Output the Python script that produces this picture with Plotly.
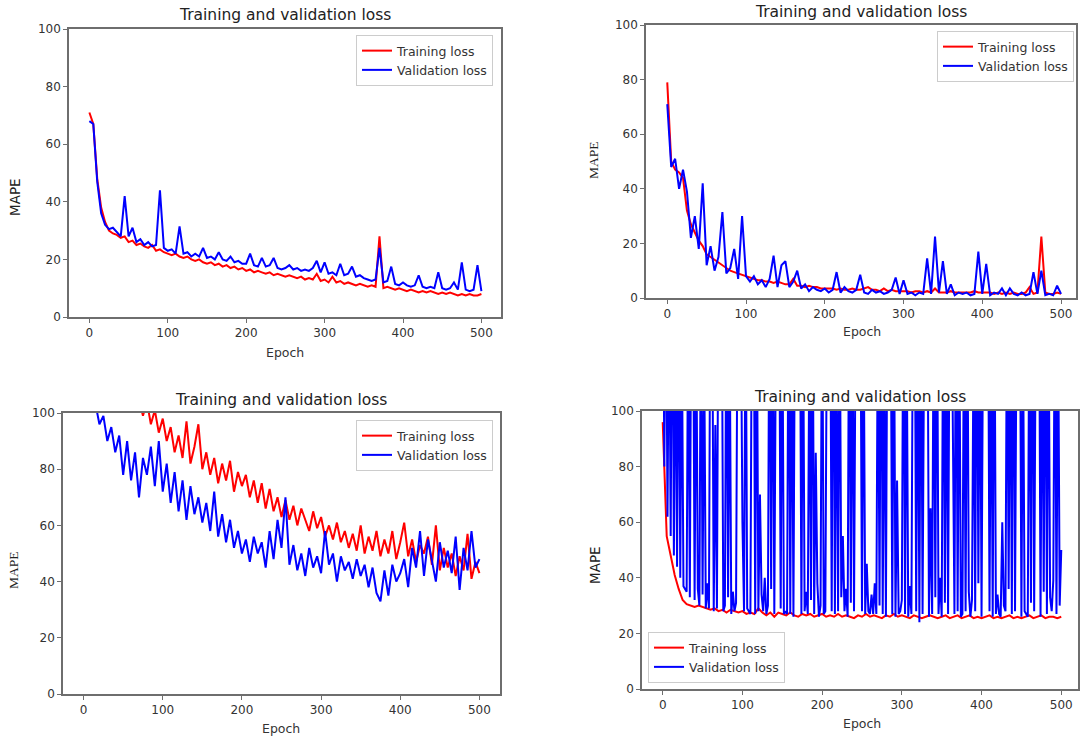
import plotly.graph_objects as go
from plotly.subplots import make_subplots

epochs = list(range(0, 501, 5))
# the bottom-right validation curve swings so fast it needs a finer step
epochs_fine = list(range(0, 501, 2))

# top-left panel
p1_train = [71, 67, 48, 38, 33, 30, 29, 28.5, 27.5, 28,
            26, 26.5, 25, 25.5, 24.5, 24, 25, 23, 23.5, 22.5,
            22, 21.5, 22, 21, 20.5, 21, 20, 19.5, 20, 19,
            18.5, 19, 18, 18.5, 17.5, 18, 17, 17.5, 16.5, 17,
            16, 16.5, 15.5, 16, 15.5, 15, 15.5, 14.5, 15, 14.5,
            14, 14.5, 14, 13.5, 14, 13, 13.5, 13, 15, 12.5,
            13, 12, 14, 12, 12.5, 11.5, 12, 11.5, 11, 11.5,
            11, 10.5, 11, 10.5, 28, 10, 10.5, 10, 9.5, 10,
            9.5, 9, 9.5, 9, 8.5, 9, 8.5, 9, 8.5, 8,
            8.5, 8, 8.5, 8, 7.5, 8, 7.5, 8, 7.5, 7.5,
            8]
p1_val = [68, 67, 47, 36, 32, 30.5, 31, 29.5, 28, 42,
          28, 31, 26, 27, 25, 26, 24.5, 25, 44, 24,
          23, 23.5, 22, 31.5, 22, 22.5, 21, 22, 21, 24,
          20.5, 21, 20, 22.5, 20, 19.5, 21, 19, 19.5, 18.5,
          18.5, 22, 18, 17.5, 20.5, 17.5, 18, 20.5, 17, 16.5,
          17, 18, 16.5, 17, 16, 16.5, 16, 17, 19.5, 15.5,
          19, 15, 15.5, 14.5, 18.5, 14.5, 15, 17.5, 14, 14.5,
          13.5, 13, 12.5, 13, 24, 12, 12.5, 17.5, 11.5, 11,
          12, 11, 10.5, 11, 14.5, 10.5, 10, 10.5, 10, 15.5,
          10, 9.5, 10, 12, 9.5, 19, 9.5, 9, 9.5, 18,
          9]

# top-right panel
p2_train = [79, 50, 47, 46, 44, 32, 27, 24, 21, 19,
            16, 15, 14, 13, 12, 11, 10, 9.5, 9, 8.5,
            8, 7.5, 7, 6.5, 6.5, 6, 6, 5.5, 6, 5.5,
            5, 5, 7, 4.5, 4.5, 4, 4.5, 4, 4, 3.5,
            3.5, 3.5, 3.5, 3, 3.5, 3, 3, 3.5, 3, 3,
            3.5, 4, 3, 3, 2.5, 3.5, 2.5, 3, 2.5, 2.5,
            2.5, 2.5, 2, 2.5, 2.5, 2, 2.5, 2, 3.5, 2,
            2, 2, 2.5, 2, 2, 2, 2, 2, 2.5, 2,
            2, 2, 2, 1.5, 2, 1.5, 2, 1.5, 2, 1.5,
            1.5, 2, 4, 1.5, 2, 22.5, 2, 1.5, 1.5, 2,
            1.5]
p2_val = [71, 48, 51, 40, 47, 39, 22, 30, 18, 42,
          12, 19, 10, 15, 31.5, 9, 11, 18, 7, 30,
          8, 6, 8, 5, 6.5, 4, 7, 15.5, 4, 12,
          13.5, 4, 6, 10, 3.5, 5, 2.5, 4, 3, 2.5,
          3.5, 2, 3, 9.5, 2, 4, 2.5, 2, 3, 8.5,
          2, 1.5, 3, 2, 2.5, 1.5, 2, 3, 7.5, 1.5,
          6.5, 1.5, 2, 1, 2, 1.5, 14.5, 1.5, 22.5, 2,
          13.5, 1.5, 5, 1, 2, 1.5, 2, 1, 1.5, 17,
          1.5, 12.5, 1, 2, 1.5, 3.5, 1, 3.5, 1.5, 1,
          2, 1, 1.5, 9.5, 1.5, 10, 1, 1.5, 1, 4.5,
          1.5]

# bottom-left panel (early values run above the 100 limit)
p3_train = [170, 165, 160, 155, 150, 145, 140, 135, 130, 125,
            120, 115, 112, 108, 105, 99, 104, 96, 101, 93,
            98, 90, 95, 86, 92, 84, 97, 82, 88, 96,
            80, 86, 78, 84, 75, 82, 76, 83, 72, 79,
            74, 78, 70, 76, 68, 75, 66, 73, 65, 70,
            63, 69, 62, 67, 60, 66, 62, 58, 65, 59,
            63, 56, 60, 55, 61, 54, 58, 52, 57, 51,
            60, 50, 56, 51, 58, 49, 55, 50, 58, 48,
            54, 61, 49, 55, 47, 53, 50, 56, 46, 60,
            44, 52, 45, 50, 42, 49, 44, 57, 41, 47,
            43]
p3_val = [125, 118, 110, 104, 96, 99, 90, 95, 86, 92,
          78, 90, 76, 86, 70, 84, 78, 88, 74, 90,
          72, 82, 68, 79, 65, 76, 62, 74, 64, 70,
          61, 68, 58, 72, 56, 64, 54, 62, 52, 58,
          50, 55, 47, 56, 50, 54, 45, 58, 48, 62,
          52, 70, 46, 53, 44, 50, 42, 52, 45, 49,
          43, 58, 46, 50, 40, 49, 44, 47, 41, 48,
          42, 46, 38, 45, 36, 33, 44, 35, 46, 40,
          43, 48, 38, 52, 45, 58, 42, 55, 47, 40,
          54, 45, 51, 43, 56, 37, 52, 44, 58, 45,
          48]

# bottom-right panel
p4_train = [96, 55, 48, 41, 36, 32, 30.5, 30, 29.5, 30,
            29.5, 29, 28.5, 29, 28, 28.5, 27.5, 28.5, 28, 27.5,
            28, 27, 27.5, 27, 29, 27.5, 26.5, 27.5, 26, 27.5,
            27, 26.5, 27.5, 26.5, 26, 27, 26.5, 27, 26, 26.5,
            27, 26, 26.5, 26, 27, 26, 26.5, 26, 25.5, 26.5,
            26, 27, 26, 26.5, 26, 25.5, 26.5, 26, 27, 26,
            26.5, 26, 25.5, 26.5, 26, 25.5, 26, 26.5, 26, 25.5,
            26, 26.5, 25.5, 26, 26.5, 25.5, 26, 26.5, 25.5, 26,
            25.5, 26, 26.5, 25.5, 26, 25.5, 26, 26.5, 25.5, 26,
            25.5, 26, 26.5, 25.5, 26, 26.5, 25.5, 26, 26, 25.5,
            26]
# validation spikes run far above the 100 limit (on epochs_fine)
p4_val = [180, 80, 160, 62, 150, 55, 170, 48, 140, 44,
          150, 40, 130, 37, 36, 35, 145, 33, 160, 155,
          32, 140, 36, 30, 150, 34, 125, 29, 38, 29,
          170, 150, 28, 95, 29, 160, 145, 150, 28, 30,
          155, 33, 130, 27, 35, 28, 31, 150, 160, 140,
          60, 28, 150, 29, 28, 27, 155, 160, 27, 145,
          28, 70, 34, 28, 40, 27, 30, 165, 36, 150,
          27, 130, 150, 155, 29, 145, 27, 28, 27, 160,
          27, 140, 26, 150, 160, 135, 155, 27, 145, 28,
          35, 27, 130, 32, 150, 27, 85, 38, 26, 30,
          155, 27, 28, 140, 150, 155, 28, 165, 27, 130,
          28, 150, 33, 55, 28, 36, 26, 160, 31, 140,
          28, 135, 150, 160, 145, 28, 140, 27, 45, 28,
          27, 34, 27, 38, 27, 145, 30, 165, 27, 130,
          26, 155, 150, 140, 27, 150, 26, 75, 27, 28,
          32, 160, 27, 135, 26, 37, 27, 150, 160, 28,
          140, 24, 155, 27, 130, 150, 160, 26, 65, 27,
          145, 33, 160, 27, 40, 26, 155, 31, 135, 27,
          150, 160, 90, 27, 160, 28, 145, 26, 27, 140,
          28, 155, 35, 26, 32, 130, 28, 160, 38, 145,
          26, 140, 155, 150, 160, 28, 135, 26, 160, 27,
          34, 27, 26, 60, 30, 28, 150, 36, 145, 27,
          160, 28, 140, 150, 155, 26, 130, 28, 27, 26,
          145, 31, 160, 28, 135, 150, 160, 26, 140, 35,
          155, 27, 145, 33, 28, 39, 150, 27, 140, 30,
          50]

W, H = 1080, 737
FONT = "DejaVu Sans"
TXT = "#333333"

# pixel boxes of the four axes and their x ranges
panels = [
    dict(train=p1_train, val=p1_val, vx=epochs, vw=2, box=(69, 501, 29, 317), xr=[-26, 525],
         title=(285, 15), epoch=(285, 352), mape=(15, 197), serif=False,
         legend=dict(x=493, y=35, xanchor="right", yanchor="top")),
    dict(train=p2_train, val=p2_val, vx=epochs, vw=2, box=(646, 1076, 25, 298), xr=[-27, 519],
         title=(861, 12), epoch=(862, 331), mape=(593, 160), serif=True,
         legend=dict(x=1074, y=31, xanchor="right", yanchor="top")),
    dict(train=p3_train, val=p3_val, vx=epochs, vw=2, box=(63, 500, 413, 694), xr=[-26, 526],
         title=(281, 400), epoch=(281, 728), mape=(13, 570), serif=True,
         legend=dict(x=493, y=420, xanchor="right", yanchor="top")),
    dict(train=p4_train, val=p4_val, vx=epochs_fine, vw=2, box=(642, 1078, 411, 689), xr=[-26, 521],
         title=(860, 397), epoch=(862, 723), mape=(595, 565), serif=False,
         legend=dict(x=648, y=683, xanchor="left", yanchor="bottom")),
]

fig = make_subplots(rows=2, cols=2)
annotations = []
layout = {}

for i, p in enumerate(panels):
    row, col = i // 2 + 1, i % 2 + 1
    leg = "legend" if i == 0 else f"legend{i + 1}"
    fig.add_trace(go.Scatter(x=epochs, y=p["train"], mode="lines", name="Training loss",
                             line=dict(color="#ff0000", width=2), legend=leg), row=row, col=col)
    fig.add_trace(go.Scatter(x=p["vx"], y=p["val"], mode="lines", name="Validation loss",
                             line=dict(color="#0000ff", width=p["vw"]), legend=leg), row=row, col=col)

    x0, x1, y0, y1 = p["box"]
    sx = "" if i == 0 else str(i + 1)
    layout[f"xaxis{sx}"] = dict(domain=[x0 / W, x1 / W], range=p["xr"], tickvals=[0, 100, 200, 300, 400, 500])
    layout[f"yaxis{sx}"] = dict(domain=[1 - y1 / H, 1 - y0 / H], range=[0, 100], tickvals=[0, 20, 40, 60, 80, 100])

    lg = p["legend"]
    layout[leg] = dict(x=lg["x"] / W, y=1 - lg["y"] / H, xanchor=lg["xanchor"], yanchor=lg["yanchor"],
                       bgcolor="rgba(255,255,255,0.8)", bordercolor="#cccccc", borderwidth=1,
                       font=dict(family=FONT, size=12.5, color=TXT), itemwidth=30, tracegroupgap=0)

    tx, ty = p["title"]
    annotations.append(dict(x=tx / W, y=1 - ty / H, text="Training and validation loss", showarrow=False,
                            xref="paper", yref="paper", xanchor="center", yanchor="middle",
                            font=dict(family=FONT, size=15.5, color="#222222")))
    ex, ey = p["epoch"]
    annotations.append(dict(x=ex / W, y=1 - ey / H, text="Epoch", showarrow=False,
                            xref="paper", yref="paper", xanchor="center", yanchor="middle",
                            font=dict(family=FONT, size=12.5, color=TXT)))
    mx, my = p["mape"]
    annotations.append(dict(x=mx / W, y=1 - my / H, text="MAPE", showarrow=False, textangle=-90,
                            xref="paper", yref="paper", xanchor="center", yanchor="middle",
                            font=dict(family="Liberation Serif" if p["serif"] else FONT, size=13.5, color="#222222")))

fig.update_layout(**layout)
axis_style = dict(showline=True, mirror=True, linecolor="#6e6e6e", linewidth=1.5, ticks="outside",
                  ticklen=4, tickcolor="#6e6e6e", showgrid=False, zeroline=False, automargin=False,
                  tickfont=dict(family=FONT, size=12, color=TXT))
fig.update_xaxes(**axis_style)
fig.update_yaxes(**axis_style)
fig.update_layout(width=W, height=H, autosize=False, margin=dict(l=0, r=0, t=0, b=0),
                  plot_bgcolor="white", paper_bgcolor="white", annotations=annotations)

# the page body has a default 8px margin; drop it so the figure sits at the window origin
fig.write_html("out.html", config={"displayModeBar": False},
               post_script="document.body.style.margin='0px';")
